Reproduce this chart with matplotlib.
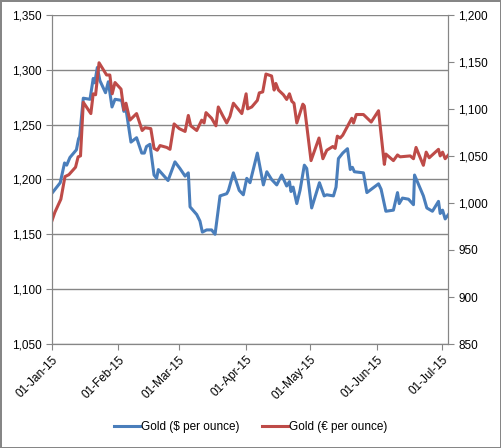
import pandas as pd
import matplotlib
matplotlib.use("Agg")
import matplotlib.pyplot as plt
import matplotlib.dates as mdates
from matplotlib.ticker import FuncFormatter, MultipleLocator

# days since 01-Jan-15 and prices
usd_day = [0, 4, 6, 7, 8.5, 11.5, 12.5, 13, 14.7, 17.8, 19.3, 20, 21.2, 22.4, 25, 26.3,
           28, 29.4, 32.5, 33.5, 34.5, 36.8, 39.4, 41.8, 43, 44, 45.6, 47.5, 48.7, 49.5,
           54, 57.2, 59.5, 61.9, 63.4, 64.2, 67.3, 68.8, 69.9, 71.9, 74.2, 75.8, 78.1,
           81.2, 82, 84.3, 87, 88.9, 90.5, 92, 95.4, 98.2, 99.8, 102, 104.4, 106.7, 109,
           110.3, 111, 112, 113.7, 115.2, 117.2, 118.3, 120.6, 124.2, 126.4, 127.6, 130.7,
           131.9, 133, 135, 137.2, 138.5, 139.5, 140.4, 144.6, 146.2, 151.6, 152.8, 155,
           158.5, 160.4, 161.2, 162.7, 165.5, 167.8, 168.3, 172.4, 174, 176.6, 179.4,
           180.2, 181.3, 182.5, 184]
usd = [1187, 1197, 1215, 1213, 1220, 1227, 1237, 1239, 1274, 1273, 1292, 1288, 1302, 1290,
       1279, 1289, 1266, 1273, 1272, 1262, 1264, 1234, 1238, 1224, 1224, 1230, 1232, 1204,
       1201, 1209, 1199, 1216, 1210, 1203, 1206, 1175, 1168, 1162, 1152, 1154, 1154, 1150,
       1185, 1187, 1190, 1206, 1190, 1186, 1201, 1197, 1224, 1195, 1207, 1200, 1195, 1204,
       1194, 1198, 1189, 1193, 1178, 1190, 1213, 1210, 1174, 1197, 1185, 1186, 1185, 1193,
       1219, 1224, 1228, 1209, 1211, 1207, 1206, 1188, 1196, 1191, 1171, 1172, 1188, 1178,
       1183, 1182, 1177, 1204, 1185, 1174, 1171, 1180, 1169, 1172, 1164, 1168]

eur_day = [0, 1.5, 4.3, 6.2, 8, 11.1, 12.3, 13.4, 14.7, 18.2, 19.3, 20.4, 22, 25.5, 27,
           28.1, 29.4, 32.2, 33.5, 34.5, 36.3, 39.4, 42, 43.3, 46, 47.5, 49, 50.3, 53.4,
           54.9, 56.8, 59.2, 61.9, 63.4, 64.5, 67.3, 69.6, 70.7, 71.6, 74.2, 76.2, 77.3,
           79.3, 81.2, 82.7, 84.3, 88.2, 90.2, 90.9, 92.8, 95.4, 96.3, 97.9, 99.4, 102,
           103.2, 104, 105.2, 107.5, 109, 110.3, 111.4, 112.4, 113.7, 116.5, 117.2, 120.3,
           124, 125.8, 127.6, 130.4, 131.5, 132.5, 133.8, 135, 139.2, 140, 141.3, 144.6,
           148.2, 151.6, 154.3, 155, 158.5, 160.4, 161.6, 166.3, 167.8, 169, 170.4, 172.4,
           173.7, 175.1, 179.4, 180.2, 181.3, 182.5, 184]
eur = [980, 990, 1004, 1028, 1030, 1038, 1049, 1050, 1107, 1095, 1116, 1115, 1149, 1136,
       1136, 1116, 1128, 1121, 1099, 1106, 1088, 1095, 1077, 1080, 1079, 1058, 1056, 1061,
       1059, 1057, 1084, 1079, 1076, 1093, 1082, 1077, 1088, 1085, 1096, 1090, 1082, 1102,
       1093, 1085, 1092, 1106, 1095, 1116, 1100, 1102, 1109, 1117, 1118, 1137, 1135, 1120,
       1127, 1120, 1115, 1110, 1116, 1108, 1106, 1085, 1105, 1103, 1045, 1069, 1047, 1056,
       1060, 1058, 1071, 1069, 1072, 1090, 1085, 1094, 1094, 1086, 1098, 1041, 1052, 1045,
       1051, 1049, 1050, 1047, 1059, 1051, 1040, 1054, 1048, 1057, 1050, 1054, 1047, 1051]

start = pd.Timestamp("2015-01-01")
usd_dates = start + pd.to_timedelta(usd_day, unit="D")
eur_dates = start + pd.to_timedelta(eur_day, unit="D")
month_ticks = pd.date_range("2015-01-01", "2015-07-01", freq="MS")

blue = "#4A7EBB"
red = "#BE4B48"
grey = "#868686"

plt.rcParams["font.family"] = ["Liberation Sans", "DejaVu Sans"]
plt.rcParams["font.size"] = 8.5

fig = plt.figure(figsize=(5.01, 4.48), dpi=100)
fig.patch.set_edgecolor(grey)
fig.patch.set_linewidth(2)
ax = fig.add_axes([0.103, 0.232, 0.792, 0.735])
ax2 = ax.twinx()

l1, = ax.plot(usd_dates, usd, color=blue, lw=2.2, label="Gold ($ per ounce)")
l2, = ax2.plot(eur_dates, eur, color=red, lw=2.2, label="Gold (€ per ounce)")

ax.set_ylim(1050, 1350)
ax.yaxis.set_major_locator(MultipleLocator(50))
ax2.set_ylim(850, 1200)
ax2.yaxis.set_major_locator(MultipleLocator(50))
comma = FuncFormatter(lambda v, p: f"{v:,.0f}")
ax.yaxis.set_major_formatter(comma)
ax2.yaxis.set_major_formatter(comma)

ax.set_xlim(start, start + pd.Timedelta(days=184))
ax.set_xticks(month_ticks)
ax.xaxis.set_major_formatter(mdates.DateFormatter("%d-%b-%y"))
for lab in ax.get_xticklabels():
    lab.set_rotation(45)
    lab.set_ha("right")
    lab.set_rotation_mode("anchor")

ax.grid(axis="y", color=grey, lw=1)
ax.set_axisbelow(True)
for a in (ax, ax2):
    a.spines["top"].set_visible(False)
    for s in ("left", "right", "bottom"):
        a.spines[s].set_color(grey)
    a.tick_params(length=4, color=grey, labelcolor="black", pad=3)

fig.legend([l1, l2], [l1.get_label(), l2.get_label()], loc="center",
           bbox_to_anchor=(0.5, 0.047), ncol=2, frameon=False,
           handlelength=2.2, handletextpad=0.1, columnspacing=1.9)

fig.savefig("out.png", dpi=100)
